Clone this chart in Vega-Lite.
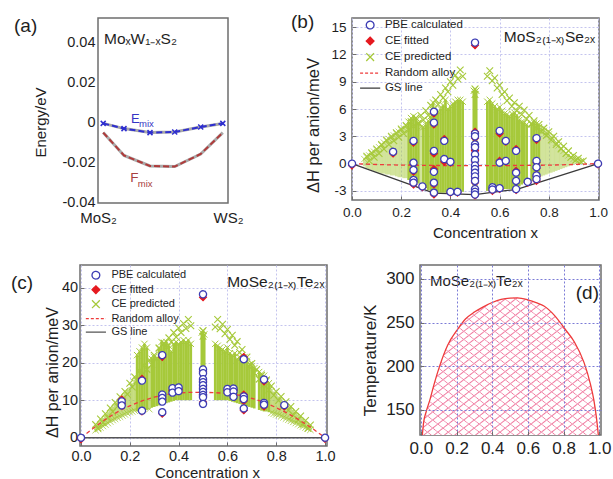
{
"$schema": "https://vega.github.io/schema/vega-lite/v6.json",
"padding": {"left": 10, "top": 11, "right": 0, "bottom": 0},
"columns": 1,
"spacing": 23,
"bounds": "full",
"resolve": {"scale": {"fill": "independent", "stroke": "independent", "shape": "independent", "strokeDash": "independent"}, "legend": {"fill": "independent", "stroke": "independent", "shape": "independent", "strokeDash": "independent"}},
"config": {
 "font": "Liberation Sans",
 "view": {"stroke": "#6e6e6e", "strokeWidth": 1.5},
 "axis": {"domain": false, "labelOverlap": false, "tickCount": 20, "tickColor": "#6e6e6e", "labelColor": "#1e1e1e", "titleColor": "#1e1e1e", "titleFontWeight": "normal", "gridColor": "#c4c4ee", "gridDash": [2, 2], "gridWidth": 1, "labelFont": "Liberation Sans", "titleFont": "Liberation Sans"},
 "title": {"fontWeight": "normal", "color": "#1e1e1e", "font": "Liberation Sans"},
 "legend": {"labelFont": "Liberation Sans", "labelColor": "#1e1e1e"},
 "text": {"font": "Liberation Sans"}
},
"datasets": {
 "a": [{"x":0.04,"E":-0.0007,"F":-0.0053},{"x":0.2,"E":-0.0033,"F":-0.0167},{"x":0.4,"E":-0.0053,"F":-0.022},{"x":0.59,"E":-0.005,"F":-0.0223},{"x":0.79,"E":-0.0025,"F":-0.016},{"x":0.96,"E":-0.0007,"F":-0.0053}],
 "b_fringe": [{"x":0.05,"lo":-0.3,"hi":0.5},{"x":0.06,"lo":-0.5,"hi":0.7},{"x":0.07,"lo":-0.6,"hi":0.9},{"x":0.08,"lo":-0.7,"hi":1.1},{"x":0.09,"lo":-0.8,"hi":1.3},{"x":0.1,"lo":-0.9,"hi":1.5},{"x":0.11,"lo":-1.0,"hi":1.8},{"x":0.12,"lo":-1.1,"hi":2.0},{"x":0.13,"lo":-1.1,"hi":2.3},{"x":0.14,"lo":-1.2,"hi":2.5},{"x":0.15,"lo":-1.2,"hi":2.7},{"x":0.16,"lo":-1.3,"hi":2.9},{"x":0.17,"lo":-1.3,"hi":3.1},{"x":0.18,"lo":-1.4,"hi":3.3},{"x":0.19,"lo":-1.5,"hi":3.5},{"x":0.2,"lo":-1.5,"hi":3.7},{"x":0.21,"lo":-1.6,"hi":3.9},{"x":0.22,"lo":-1.6,"hi":4.1},{"x":0.28,"lo":-2.2,"hi":4.0},{"x":0.77,"lo":-1.4,"hi":3.8},{"x":0.78,"lo":-1.3,"hi":3.6},{"x":0.79,"lo":-1.2,"hi":3.4},{"x":0.8,"lo":-1.1,"hi":3.2},{"x":0.81,"lo":-1.0,"hi":2.9},{"x":0.82,"lo":-0.9,"hi":2.6},{"x":0.83,"lo":-0.8,"hi":2.3},{"x":0.84,"lo":-0.7,"hi":2.0},{"x":0.85,"lo":-0.6,"hi":1.7},{"x":0.86,"lo":-0.5,"hi":1.4},{"x":0.87,"lo":-0.4,"hi":1.1},{"x":0.88,"lo":-0.3,"hi":0.9},{"x":0.89,"lo":-0.2,"hi":0.7},{"x":0.9,"lo":-0.1,"hi":0.5},{"x":0.91,"lo":0.0,"hi":0.4},{"x":0.92,"lo":0.0,"hi":0.3}],
 "b_cols": [{"x":0.23,"lo":-1.8,"hi":4.6},{"x":0.24,"lo":-2.0,"hi":5.0},{"x":0.25,"lo":-2.1,"hi":5.2},{"x":0.26,"lo":-2.1,"hi":5.0},{"x":0.27,"lo":-2.2,"hi":4.5},{"x":0.29,"lo":-2.5,"hi":4.0},{"x":0.3,"lo":-2.7,"hi":4.3},{"x":0.31,"lo":-2.9,"hi":4.7},{"x":0.32,"lo":-3.0,"hi":5.2},{"x":0.33,"lo":-3.2,"hi":6.7},{"x":0.34,"lo":-3.2,"hi":5.4},{"x":0.35,"lo":-3.2,"hi":5.7},{"x":0.36,"lo":-3.2,"hi":6.0},{"x":0.37,"lo":-3.2,"hi":6.4},{"x":0.38,"lo":-3.2,"hi":7.0},{"x":0.39,"lo":-3.2,"hi":6.0},{"x":0.4,"lo":-3.2,"hi":6.3},{"x":0.41,"lo":-3.2,"hi":6.6},{"x":0.42,"lo":-3.2,"hi":6.8},{"x":0.43,"lo":-3.1,"hi":7.0},{"x":0.44,"lo":-3.1,"hi":7.0},{"x":0.45,"lo":-3.1,"hi":6.8},{"x":0.495,"lo":-3.4,"hi":8.0},{"x":0.5,"lo":-3.4,"hi":8.2},{"x":0.505,"lo":-3.4,"hi":8.0},{"x":0.55,"lo":-3.0,"hi":6.8},{"x":0.56,"lo":-3.0,"hi":7.0},{"x":0.57,"lo":-2.9,"hi":6.6},{"x":0.58,"lo":-2.9,"hi":6.3},{"x":0.59,"lo":-2.8,"hi":6.0},{"x":0.6,"lo":-2.8,"hi":6.2},{"x":0.61,"lo":-2.8,"hi":5.8},{"x":0.62,"lo":-2.8,"hi":5.5},{"x":0.63,"lo":-2.8,"hi":5.4},{"x":0.64,"lo":-2.8,"hi":5.2},{"x":0.65,"lo":-2.8,"hi":5.5},{"x":0.66,"lo":-2.8,"hi":5.6},{"x":0.67,"lo":-2.7,"hi":5.3},{"x":0.68,"lo":-2.5,"hi":4.8},{"x":0.69,"lo":-2.3,"hi":4.6},{"x":0.7,"lo":-2.1,"hi":4.5},{"x":0.71,"lo":-2.0,"hi":4.3},{"x":0.73,"lo":-1.9,"hi":4.3},{"x":0.74,"lo":-1.8,"hi":4.5},{"x":0.75,"lo":-1.7,"hi":4.4},{"x":0.76,"lo":-1.6,"hi":4.0}],
 "b_pred": [{"x":0.06,"y":0.8},{"x":0.08,"y":1.2},{"x":0.1,"y":1.6},{"x":0.12,"y":2.1},{"x":0.14,"y":2.6},{"x":0.16,"y":3.0},{"x":0.18,"y":3.4},{"x":0.2,"y":3.8},{"x":0.22,"y":4.2},{"x":0.24,"y":4.6},{"x":0.26,"y":5.0},{"x":0.28,"y":5.3},{"x":0.3,"y":5.8},{"x":0.32,"y":6.4},{"x":0.34,"y":7.0},{"x":0.36,"y":7.6},{"x":0.38,"y":8.3},{"x":0.4,"y":9.0},{"x":0.42,"y":9.7},{"x":0.44,"y":10.3},
  {"x":0.07,"y":0.3},{"x":0.09,"y":0.7},{"x":0.11,"y":1.1},{"x":0.13,"y":1.6},{"x":0.15,"y":2.1},{"x":0.17,"y":2.5},{"x":0.19,"y":2.9},{"x":0.21,"y":3.3},{"x":0.23,"y":3.7},{"x":0.25,"y":4.1},{"x":0.27,"y":4.4},{"x":0.29,"y":4.8},{"x":0.31,"y":5.3},{"x":0.33,"y":5.9},{"x":0.35,"y":6.5},{"x":0.37,"y":7.2},{"x":0.39,"y":7.9},{"x":0.41,"y":8.6},{"x":0.43,"y":9.3},{"x":0.45,"y":9.6},
  {"x":0.56,"y":10.2},{"x":0.58,"y":9.4},{"x":0.6,"y":8.6},{"x":0.62,"y":7.9},{"x":0.64,"y":7.2},{"x":0.66,"y":6.7},{"x":0.68,"y":6.3},{"x":0.7,"y":5.9},{"x":0.72,"y":5.3},{"x":0.74,"y":4.7},{"x":0.76,"y":4.3},{"x":0.78,"y":3.9},{"x":0.8,"y":3.5},{"x":0.82,"y":3.0},{"x":0.84,"y":2.4},{"x":0.86,"y":1.9},{"x":0.88,"y":1.4},{"x":0.9,"y":0.9},{"x":0.92,"y":0.6},{"x":0.94,"y":0.3},
  {"x":0.55,"y":9.6},{"x":0.57,"y":9.1},{"x":0.59,"y":8.3},{"x":0.61,"y":7.6},{"x":0.63,"y":6.9},{"x":0.65,"y":6.3},{"x":0.67,"y":5.8},{"x":0.69,"y":5.4},{"x":0.71,"y":4.9},{"x":0.73,"y":4.4},{"x":0.75,"y":3.9},{"x":0.77,"y":3.5},{"x":0.79,"y":3.1},{"x":0.81,"y":2.6},{"x":0.83,"y":2.1},{"x":0.85,"y":1.6},{"x":0.87,"y":1.1},{"x":0.89,"y":0.7},{"x":0.91,"y":0.4},{"x":0.93,"y":0.2},
  {"x":0.5,"y":8.2},{"x":0.5,"y":7.6}],
 "b_pts": [{"x":0,"pbe":0,"ce":-0.2},{"x":0.167,"pbe":1.3,"ce":1.1},{"x":0.25,"pbe":2.5,"ce":2.3},{"x":0.25,"pbe":0.1,"ce":-0.1},{"x":0.25,"pbe":-0.7,"ce":-0.9},{"x":0.25,"pbe":-1.8,"ce":-2.0},{"x":0.25,"pbe":-2.1,"ce":-2.3},{"x":0.286,"pbe":-2.5,"ce":-2.6},{"x":0.333,"pbe":5.7,"ce":5.5},{"x":0.333,"pbe":4.5,"ce":4.3},{"x":0.333,"pbe":1.4,"ce":1.1},{"x":0.333,"pbe":-0.9,"ce":-0.6},{"x":0.333,"pbe":-2.1,"ce":-2.3},{"x":0.333,"pbe":-3.2,"ce":-3.4},{"x":0.375,"pbe":2.5,"ce":2.7},{"x":0.375,"pbe":0.5,"ce":0.2},{"x":0.4,"pbe":0.2,"ce":0.1},{"x":0.4,"pbe":-3.1,"ce":-3.2},{"x":0.429,"pbe":-3.1,"ce":-3.2},{"x":0.5,"pbe":13.3,"ce":13.0},{"x":0.5,"pbe":3.3,"ce":3.5},{"x":0.5,"pbe":3.0,"ce":2.8},{"x":0.5,"pbe":2.1,"ce":1.9},{"x":0.5,"pbe":1.8,"ce":1.5},{"x":0.5,"pbe":1.0,"ce":1.4},{"x":0.5,"pbe":0.4,"ce":0.2},{"x":0.5,"pbe":-0.2,"ce":-0.4},{"x":0.5,"pbe":-0.6,"ce":-0.8},{"x":0.5,"pbe":-1.0,"ce":-1.2},{"x":0.5,"pbe":-1.4,"ce":-1.6},{"x":0.5,"pbe":-1.9,"ce":-2.1},{"x":0.5,"pbe":-2.8,"ce":-3.0},{"x":0.5,"pbe":-3.1,"ce":-3.3},{"x":0.5,"pbe":-3.4,"ce":-3.5},{"x":0.571,"pbe":-2.6,"ce":-2.8},{"x":0.571,"pbe":-2.85,"ce":-3.0},{"x":0.6,"pbe":3.6,"ce":3.3},{"x":0.6,"pbe":0.1,"ce":0.3},{"x":0.6,"pbe":-2.7,"ce":-2.8},{"x":0.625,"pbe":2.5,"ce":2.4},{"x":0.625,"pbe":0.3,"ce":0.2},{"x":0.667,"pbe":1.4,"ce":1.6},{"x":0.667,"pbe":-1.0,"ce":-0.8},{"x":0.667,"pbe":-1.9,"ce":-2.0},{"x":0.667,"pbe":-2.8,"ce":-2.9},{"x":0.714,"pbe":-2.0,"ce":-2.1},{"x":0.75,"pbe":2.8,"ce":2.6},{"x":0.75,"pbe":0.3,"ce":0.1},{"x":0.75,"pbe":-0.4,"ce":-0.5},{"x":0.75,"pbe":-1.3,"ce":-1.4},{"x":0.75,"pbe":-1.7,"ce":-1.9},{"x":1,"pbe":0,"ce":-0.1}],
 "b_rand": [{"x":0,"y":0},{"x":0.1,"y":-0.1},{"x":0.2,"y":-0.17},{"x":0.3,"y":-0.2},{"x":0.4,"y":-0.22},{"x":0.5,"y":-0.23},{"x":0.6,"y":-0.22},{"x":0.7,"y":-0.2},{"x":0.8,"y":-0.17},{"x":0.9,"y":-0.1},{"x":1,"y":0}],
 "b_gs": [{"x":0,"y":0},{"x":0.333,"y":-3.25},{"x":0.5,"y":-3.4},{"x":0.6,"y":-3.05},{"x":0.667,"y":-2.85},{"x":1,"y":0}],
 "c_fringe": [{"x":0.06,"lo":2.0,"hi":3.0},{"x":0.07,"lo":2.3,"hi":4.0},{"x":0.08,"lo":2.7,"hi":4.6},{"x":0.09,"lo":3.1,"hi":5.3},{"x":0.1,"lo":3.5,"hi":6.0},{"x":0.11,"lo":3.9,"hi":6.8},{"x":0.12,"lo":4.3,"hi":7.5},{"x":0.13,"lo":4.7,"hi":8.3},{"x":0.14,"lo":5.0,"hi":9.0},{"x":0.15,"lo":5.3,"hi":9.8},{"x":0.16,"lo":5.6,"hi":10.5},{"x":0.17,"lo":5.9,"hi":11.3},{"x":0.18,"lo":6.2,"hi":12.0},{"x":0.19,"lo":6.5,"hi":12.8},{"x":0.2,"lo":6.8,"hi":13.5},{"x":0.21,"lo":7.0,"hi":14.5},{"x":0.22,"lo":7.2,"hi":15.5},{"x":0.28,"lo":7.6,"hi":19.0},{"x":0.78,"lo":6.6,"hi":13.0},{"x":0.79,"lo":6.4,"hi":12.3},{"x":0.8,"lo":6.2,"hi":11.6},{"x":0.81,"lo":6.0,"hi":11.0},{"x":0.82,"lo":5.7,"hi":10.4},{"x":0.83,"lo":5.4,"hi":9.8},{"x":0.84,"lo":5.1,"hi":9.2},{"x":0.85,"lo":4.8,"hi":8.6},{"x":0.86,"lo":4.5,"hi":8.0},{"x":0.87,"lo":4.2,"hi":7.4},{"x":0.88,"lo":3.9,"hi":6.8},{"x":0.89,"lo":3.6,"hi":6.2},{"x":0.9,"lo":3.3,"hi":5.6},{"x":0.91,"lo":3.0,"hi":5.0},{"x":0.92,"lo":2.7,"hi":4.4},{"x":0.93,"lo":2.4,"hi":3.8},{"x":0.94,"lo":2.1,"hi":3.2}],
 "c_cols": [{"x":0.23,"lo":7.0,"hi":22.0},{"x":0.24,"lo":7.0,"hi":23.0},{"x":0.25,"lo":7.0,"hi":24.0},{"x":0.26,"lo":7.2,"hi":25.0},{"x":0.27,"lo":7.4,"hi":24.0},{"x":0.29,"lo":8.0,"hi":21.0},{"x":0.3,"lo":8.2,"hi":21.5},{"x":0.31,"lo":8.4,"hi":21.0},{"x":0.32,"lo":8.6,"hi":24.0},{"x":0.33,"lo":8.8,"hi":25.5},{"x":0.34,"lo":9.0,"hi":25.0},{"x":0.35,"lo":9.2,"hi":25.5},{"x":0.36,"lo":9.4,"hi":24.5},{"x":0.37,"lo":9.6,"hi":23.0},{"x":0.38,"lo":9.8,"hi":25.0},{"x":0.39,"lo":10.0,"hi":25.5},{"x":0.4,"lo":10.0,"hi":25.0},{"x":0.41,"lo":10.0,"hi":25.5},{"x":0.42,"lo":10.0,"hi":26.0},{"x":0.43,"lo":10.0,"hi":25.5},{"x":0.44,"lo":10.0,"hi":26.0},{"x":0.45,"lo":10.0,"hi":25.0},{"x":0.495,"lo":9.0,"hi":28.0},{"x":0.5,"lo":9.0,"hi":28.5},{"x":0.505,"lo":9.0,"hi":27.5},{"x":0.55,"lo":10.0,"hi":25.0},{"x":0.56,"lo":10.0,"hi":24.5},{"x":0.57,"lo":10.0,"hi":24.0},{"x":0.58,"lo":10.0,"hi":23.5},{"x":0.59,"lo":10.0,"hi":23.0},{"x":0.6,"lo":10.0,"hi":24.0},{"x":0.61,"lo":9.8,"hi":22.5},{"x":0.62,"lo":9.6,"hi":22.0},{"x":0.63,"lo":9.4,"hi":22.5},{"x":0.64,"lo":9.2,"hi":21.0},{"x":0.65,"lo":9.0,"hi":21.5},{"x":0.66,"lo":8.8,"hi":22.0},{"x":0.67,"lo":8.6,"hi":21.5},{"x":0.68,"lo":8.4,"hi":20.5},{"x":0.69,"lo":8.2,"hi":19.5},{"x":0.7,"lo":8.0,"hi":19.0},{"x":0.71,"lo":7.8,"hi":18.5},{"x":0.73,"lo":7.4,"hi":17.5},{"x":0.74,"lo":7.2,"hi":17.0},{"x":0.75,"lo":7.0,"hi":16.5},{"x":0.76,"lo":7.0,"hi":15.5},{"x":0.77,"lo":6.8,"hi":14.5}],
 "c_pred": [{"x":0.06,"y":3.5},{"x":0.08,"y":5.0},{"x":0.1,"y":6.4},{"x":0.12,"y":7.9},{"x":0.14,"y":9.4},{"x":0.16,"y":10.9},{"x":0.18,"y":12.3},{"x":0.2,"y":14.5},{"x":0.22,"y":16.2},{"x":0.24,"y":17.8},{"x":0.26,"y":19.3},{"x":0.28,"y":20.7},{"x":0.3,"y":22.0},{"x":0.32,"y":23.8},{"x":0.34,"y":25.2},{"x":0.36,"y":26.6},{"x":0.38,"y":28.0},{"x":0.4,"y":29.2},{"x":0.42,"y":30.4},{"x":0.44,"y":31.5},
  {"x":0.07,"y":2.6},{"x":0.09,"y":4.0},{"x":0.11,"y":5.4},{"x":0.13,"y":6.9},{"x":0.15,"y":8.4},{"x":0.17,"y":9.8},{"x":0.19,"y":11.6},{"x":0.21,"y":13.5},{"x":0.23,"y":15.2},{"x":0.25,"y":16.7},{"x":0.27,"y":18.2},{"x":0.29,"y":19.5},{"x":0.31,"y":21.1},{"x":0.33,"y":22.7},{"x":0.35,"y":24.1},{"x":0.37,"y":25.5},{"x":0.39,"y":26.8},{"x":0.41,"y":28.0},{"x":0.43,"y":29.1},{"x":0.45,"y":29.8},
  {"x":0.56,"y":31.5},{"x":0.58,"y":30.2},{"x":0.6,"y":28.8},{"x":0.62,"y":27.3},{"x":0.64,"y":25.6},{"x":0.66,"y":23.5},{"x":0.68,"y":21.5},{"x":0.7,"y":19.8},{"x":0.72,"y":18.2},{"x":0.74,"y":16.6},{"x":0.76,"y":15.2},{"x":0.78,"y":13.8},{"x":0.8,"y":12.3},{"x":0.82,"y":11.0},{"x":0.84,"y":9.6},{"x":0.86,"y":8.3},{"x":0.88,"y":7.0},{"x":0.9,"y":5.8},{"x":0.92,"y":4.6},{"x":0.94,"y":3.4},
  {"x":0.55,"y":29.5},{"x":0.57,"y":29.0},{"x":0.59,"y":27.7},{"x":0.61,"y":26.2},{"x":0.63,"y":24.6},{"x":0.65,"y":22.7},{"x":0.67,"y":20.7},{"x":0.69,"y":18.9},{"x":0.71,"y":17.2},{"x":0.73,"y":15.6},{"x":0.75,"y":14.1},{"x":0.77,"y":12.7},{"x":0.79,"y":11.3},{"x":0.81,"y":9.9},{"x":0.83,"y":8.6},{"x":0.85,"y":7.3},{"x":0.87,"y":6.0},{"x":0.89,"y":4.8},{"x":0.91,"y":3.6},{"x":0.93,"y":2.5},
  {"x":0.5,"y":28.5},{"x":0.5,"y":27.0}],
 "c_pts": [{"x":0,"pbe":0,"ce":-0.4},{"x":0.167,"pbe":9.7,"ce":10.2},{"x":0.167,"pbe":8.6,"ce":9.1},{"x":0.25,"pbe":15.2,"ce":15.7},{"x":0.25,"pbe":7.2,"ce":7.0},{"x":0.333,"pbe":22.0,"ce":21.5},{"x":0.333,"pbe":11.5,"ce":11.0},{"x":0.333,"pbe":10.6,"ce":10.1},{"x":0.333,"pbe":9.6,"ce":10.1},{"x":0.333,"pbe":6.8,"ce":6.4},{"x":0.375,"pbe":13.2,"ce":12.7},{"x":0.375,"pbe":12.0,"ce":12.5},{"x":0.4,"pbe":13.4,"ce":12.9},{"x":0.4,"pbe":12.4,"ce":12.9},{"x":0.5,"pbe":38.2,"ce":37.4},{"x":0.5,"pbe":18.2,"ce":17.7},{"x":0.5,"pbe":17.2,"ce":17.7},{"x":0.5,"pbe":15.6,"ce":15.0},{"x":0.5,"pbe":14.8,"ce":15.3},{"x":0.5,"pbe":14.0,"ce":13.5},{"x":0.5,"pbe":13.0,"ce":13.5},{"x":0.5,"pbe":12.2,"ce":11.6},{"x":0.5,"pbe":11.4,"ce":10.9},{"x":0.5,"pbe":10.8,"ce":11.2},{"x":0.5,"pbe":9.0,"ce":9.5},{"x":0.6,"pbe":13.0,"ce":12.5},{"x":0.6,"pbe":12.1,"ce":12.6},{"x":0.625,"pbe":13.1,"ce":12.6},{"x":0.625,"pbe":12.3,"ce":12.8},{"x":0.625,"pbe":10.9,"ce":11.4},{"x":0.667,"pbe":20.9,"ce":21.5},{"x":0.667,"pbe":11.0,"ce":11.5},{"x":0.667,"pbe":10.3,"ce":9.8},{"x":0.667,"pbe":7.8,"ce":7.3},{"x":0.75,"pbe":15.5,"ce":15.0},{"x":0.75,"pbe":9.3,"ce":8.8},{"x":0.75,"pbe":8.8,"ce":8.3},{"x":0.833,"pbe":8.7,"ce":8.3},{"x":1,"pbe":0,"ce":-0.3}],
 "c_rand": [{"x":0,"y":0},{"x":0.05,"y":2.5},{"x":0.1,"y":4.9},{"x":0.15,"y":6.9},{"x":0.2,"y":8.5},{"x":0.25,"y":9.8},{"x":0.3,"y":10.8},{"x":0.35,"y":11.5},{"x":0.4,"y":11.9},{"x":0.45,"y":12.1},{"x":0.5,"y":12.1},{"x":0.55,"y":12.0},{"x":0.6,"y":11.8},{"x":0.65,"y":11.3},{"x":0.7,"y":10.5},{"x":0.75,"y":9.5},{"x":0.8,"y":8.0},{"x":0.85,"y":6.4},{"x":0.9,"y":4.5},{"x":0.95,"y":2.4},{"x":1,"y":0}],
 "c_gs": [{"x":0,"y":0},{"x":1,"y":0}],
 "d": [{"x":0.008,"t":121},{"x":0.015,"t":135},{"x":0.03,"t":148},{"x":0.05,"t":161},{"x":0.075,"t":180},{"x":0.105,"t":200},{"x":0.15,"t":224},{"x":0.205,"t":242},{"x":0.25,"t":254},{"x":0.3,"t":262},{"x":0.35,"t":268},{"x":0.4,"t":273},{"x":0.45,"t":276.5},{"x":0.5,"t":278},{"x":0.54,"t":278.3},{"x":0.6,"t":276},{"x":0.65,"t":272.5},{"x":0.69,"t":269},{"x":0.75,"t":258},{"x":0.81,"t":242},{"x":0.86,"t":228},{"x":0.915,"t":204},{"x":0.95,"t":180},{"x":0.97,"t":161},{"x":0.985,"t":140},{"x":0.995,"t":121}]
},
"concat": [
 {"hconcat": [
  {"width": 1, "height": 1, "data": {"values": [{}]}, "mark": {"type": "point", "opacity": 0}, "view": {"stroke": null}},
  {"hconcat": [
  {"width": 130, "height": 185,
   "title": {"text": "(a)", "anchor": "start", "frame": "group", "orient": "top", "offset": 0, "baseline": "top", "dx": -84, "dy": 18, "fontSize": 19},
   "layer": [
    {"data": {"name": "a"}, "mark": {"type": "line", "color": "#a9a9a9", "strokeWidth": 3},
     "encoding": {
      "x": {"field": "x", "type": "quantitative", "scale": {"domain": [0, 1], "nice": false, "zero": false}, "axis": {"values": [0, 1], "tickCount": 20, "labelExpr": "datum.value == 0 ? 'MoS₂' : 'WS₂'", "labelFontSize": 15, "labelPadding": 7, "labelOverlap": false, "ticks": false, "grid": false, "labelFlush": false, "title": null}},
      "y": {"field": "E", "type": "quantitative", "scale": {"domain": [-0.0405, 0.052], "nice": false, "zero": false}, "axis": {"values": [-0.04, -0.02, 0, 0.02, 0.04], "tickCount": 20, "labelExpr": "datum.value == 0 ? '0' : (datum.value < 0 ? '-' + format(-datum.value, '.2f') : format(datum.value, '.2f'))", "labelFontSize": 14.5, "labelPadding": 3, "labelOverlap": false, "ticks": false, "grid": false, "title": "Energy/eV", "titleFontSize": 15, "titleX": -50, "titleY": 104}}}},
    {"data": {"name": "a"}, "mark": {"type": "line", "color": "#a9a9a9", "strokeWidth": 3}, "encoding": {"x": {"field": "x", "type": "quantitative"}, "y": {"field": "F", "type": "quantitative"}}},
    {"data": {"name": "a"}, "mark": {"type": "line", "color": "#2e2ed0", "strokeWidth": 2, "strokeDash": [6, 3]}, "encoding": {"x": {"field": "x", "type": "quantitative"}, "y": {"field": "E", "type": "quantitative"}}},
    {"data": {"name": "a"}, "mark": {"type": "line", "color": "#b03a3a", "strokeWidth": 2, "strokeDash": [6, 3]}, "encoding": {"x": {"field": "x", "type": "quantitative"}, "y": {"field": "F", "type": "quantitative"}}},
    {"data": {"name": "a"}, "mark": {"type": "point", "shape": "M-1,-1L1,1M-1,1L1,-1", "filled": false, "color": "#2e2ed0", "size": 25, "strokeWidth": 1.5, "opacity": 1}, "encoding": {"x": {"field": "x", "type": "quantitative"}, "y": {"field": "E", "type": "quantitative"}}},
    {"data": {"values": [{}]}, "mark": {"type": "text", "text": "MoₓW₁₋ₓS₂", "align": "left", "baseline": "alphabetic", "fontSize": 15.5, "color": "#1e1e1e"}, "encoding": {"x": {"datum": 0.046, "type": "quantitative"}, "y": {"datum": 0.0392, "type": "quantitative"}}},
    {"data": {"values": [{}]}, "mark": {"type": "text", "text": "E", "align": "left", "baseline": "alphabetic", "fontSize": 13, "color": "#3535c5"}, "encoding": {"x": {"datum": 0.254, "type": "quantitative"}, "y": {"datum": -0.00064, "type": "quantitative"}}},
    {"data": {"values": [{}]}, "mark": {"type": "text", "text": "mix", "align": "left", "baseline": "alphabetic", "fontSize": 9.5, "dx": 8, "dy": 4, "color": "#3535c5"}, "encoding": {"x": {"datum": 0.254, "type": "quantitative"}, "y": {"datum": -0.00064, "type": "quantitative"}}},
    {"data": {"values": [{}]}, "mark": {"type": "text", "text": "F", "align": "left", "baseline": "alphabetic", "fontSize": 13.5, "color": "#a84040"}, "encoding": {"x": {"datum": 0.248, "type": "quantitative"}, "y": {"datum": -0.02993, "type": "quantitative"}}},
    {"data": {"values": [{}]}, "mark": {"type": "text", "text": "mix", "align": "left", "baseline": "alphabetic", "fontSize": 9.5, "dx": 7.5, "dy": 5, "color": "#a84040"}, "encoding": {"x": {"datum": 0.248, "type": "quantitative"}, "y": {"datum": -0.02993, "type": "quantitative"}}}
   ]},
  {"width": 247, "height": 182,
   "title": {"text": "(b)", "anchor": "start", "frame": "group", "orient": "top", "offset": 0, "baseline": "top", "dx": -61, "dy": 13.5, "fontSize": 19},
   "layer": [
    {"data": {"name": "b_fringe"}, "mark": {"type": "rule", "color": "#a6c93a", "strokeWidth": 2.6, "opacity": 0.5},
     "encoding": {
      "x": {"field": "x", "type": "quantitative", "scale": {"domain": [0, 1.004], "nice": false, "zero": false}, "axis": {"values": [0, 0.2, 0.4, 0.6, 0.8, 1], "tickCount": 20, "format": ".1f", "labelFontSize": 13.5, "labelPadding": 9.3, "labelOverlap": false, "tickSize": -4, "grid": true, "labelFlush": false, "title": "Concentration x", "titleFontSize": 15, "titleX": 133, "titleY": 25, "titleBaseline": "top"}},
      "y": {"field": "lo", "type": "quantitative", "scale": {"domain": [-4, 16], "nice": false, "zero": false}, "axis": {"values": [-3, 0, 3, 6, 9, 12, 15], "tickCount": 20, "labelExpr": "datum.value < 0 ? '-' + format(-datum.value, 'd') : format(datum.value, 'd')", "labelFontSize": 13.5, "labelPadding": 10, "labelOverlap": false, "tickSize": -4, "grid": true, "title": "ΔH per anion/meV", "titleFontSize": 16.5, "titleX": -31, "titleY": 107}},
      "y2": {"field": "hi"}}},
    {"data": {"name": "b_cols"}, "mark": {"type": "rule", "color": "#a6c93a", "strokeWidth": 2.6}, "encoding": {"x": {"field": "x", "type": "quantitative"}, "y": {"field": "lo", "type": "quantitative"}, "y2": {"field": "hi"}}},
    {"data": {"name": "b_cols"}, "mark": {"type": "point", "shape": "M-1,-1L1,1M-1,1L1,-1", "filled": false, "color": "#a6c93a", "size": 40, "strokeWidth": 1, "opacity": 1}, "encoding": {"x": {"field": "x", "type": "quantitative"}, "y": {"field": "hi", "type": "quantitative"}}},
    {"data": {"name": "b_fringe"}, "mark": {"type": "point", "shape": "M-1,-1L1,1M-1,1L1,-1", "filled": false, "color": "#a6c93a", "size": 40, "strokeWidth": 1, "opacity": 0.7}, "encoding": {"x": {"field": "x", "type": "quantitative"}, "y": {"field": "hi", "type": "quantitative"}}},
    {"data": {"name": "b_pred"}, "mark": {"type": "point", "shape": "M-1,-1L1,1M-1,1L1,-1", "filled": false, "color": "#a6c93a", "size": 45, "strokeWidth": 1.1, "opacity": 1}, "encoding": {"x": {"field": "x", "type": "quantitative"}, "y": {"field": "y", "type": "quantitative"}}},
    {"data": {"name": "b_rand"}, "mark": {"type": "line", "color": "#ee3b3b", "strokeWidth": 1.3, "strokeDash": [4, 3]}, "encoding": {"x": {"field": "x", "type": "quantitative"}, "y": {"field": "y", "type": "quantitative"}}},
    {"data": {"name": "b_gs"}, "mark": {"type": "line", "color": "#3a3a3a", "strokeWidth": 1.3}, "encoding": {"x": {"field": "x", "type": "quantitative"}, "y": {"field": "y", "type": "quantitative"}}},
    {"data": {"name": "b_pts"}, "transform": [{"fold": ["pbe", "ce"], "as": ["series", "y"]}, {"filter": "datum.series == 'ce'"}],
     "mark": {"type": "point", "size": 45, "strokeWidth": 1.3, "opacity": 1},
     "encoding": {"x": {"field": "x", "type": "quantitative"}, "y": {"field": "y", "type": "quantitative"},
      "stroke": {"field": "series", "type": "nominal", "scale": {"domain": ["pbe", "ce", "pred", "rand", "gs"], "range": ["#3c3cb4", "#e5191f", "#a6c93a", "#ee3b3b", "#3a3a3a"]},
       "legend": {"orient": "none", "legendX": 12.4, "legendY": 1.3, "direction": "vertical", "title": null, "padding": 0, "labelFontSize": 11.5, "labelOffset": 9, "rowPadding": 2, "symbolSize": 60, "symbolStrokeWidth": 1.3, "labelLimit": 200,
        "labelExpr": "datum.value == 'pbe' ? 'PBE calculated' : datum.value == 'ce' ? 'CE fitted' : datum.value == 'pred' ? 'CE predicted' : datum.value == 'rand' ? 'Random alloy' : 'GS line'"}},
      "fill": {"field": "series", "type": "nominal", "scale": {"domain": ["pbe", "ce", "pred", "rand", "gs"], "range": ["#ffffff", "#e5191f", "transparent", "transparent", "transparent"]}},
      "strokeDash": {"field": "series", "type": "nominal", "scale": {"domain": ["pbe", "ce", "pred", "rand", "gs"], "range": [[1, 0], [1, 0], [1, 0], [3, 2], [1, 0]]}},
      "shape": {"field": "series", "type": "nominal", "scale": {"domain": ["pbe", "ce", "pred", "rand", "gs"], "range": ["circle", "diamond", "M-1,-1L1,1M-1,1L1,-1", "M-2.6,0L2.6,0", "M-2.6,0L2.6,0"]}}}},
    {"data": {"name": "b_pts"}, "transform": [{"fold": ["pbe", "ce"], "as": ["series", "y"]}, {"filter": "datum.series == 'pbe'"}],
     "mark": {"type": "point", "size": 50, "strokeWidth": 1.3, "opacity": 1},
     "encoding": {"x": {"field": "x", "type": "quantitative"}, "y": {"field": "y", "type": "quantitative"},
      "stroke": {"field": "series", "type": "nominal", "scale": {"domain": ["pbe", "ce", "pred", "rand", "gs"], "range": ["#3c3cb4", "#e5191f", "#a6c93a", "#ee3b3b", "#3a3a3a"]}},
      "fill": {"field": "series", "type": "nominal", "scale": {"domain": ["pbe", "ce", "pred", "rand", "gs"], "range": ["#ffffff", "#e5191f", "transparent", "transparent", "transparent"]}},
      "strokeDash": {"field": "series", "type": "nominal", "scale": {"domain": ["pbe", "ce", "pred", "rand", "gs"], "range": [[1, 0], [1, 0], [1, 0], [3, 2], [1, 0]]}},
      "shape": {"field": "series", "type": "nominal", "scale": {"domain": ["pbe", "ce", "pred", "rand", "gs"], "range": ["circle", "diamond", "M-1,-1L1,1M-1,1L1,-1", "M-2.6,0L2.6,0", "M-2.6,0L2.6,0"]}}}},
    {"data": {"values": [{}]}, "mark": {"type": "text", "text": "MoS₂₍₁₋ₓ₎Se₂ₓ", "align": "left", "baseline": "alphabetic", "fontSize": 15.5, "color": "#1e1e1e"}, "encoding": {"x": {"datum": 0.617, "type": "quantitative"}, "y": {"datum": 13.34, "type": "quantitative"}}}
   ]}
  ], "spacing": 124, "bounds": "flush", "resolve": {"scale": {"fill": "independent", "stroke": "independent", "shape": "independent", "strokeDash": "independent"}, "legend": {"fill": "independent", "stroke": "independent", "shape": "independent", "strokeDash": "independent"}}}
 ], "spacing": 17, "bounds": "flush", "resolve": {"scale": {"fill": "independent", "stroke": "independent", "shape": "independent", "strokeDash": "independent"}, "legend": {"fill": "independent", "stroke": "independent", "shape": "independent", "strokeDash": "independent"}}},
 {"hconcat": [
  {"width": 247, "height": 181,
   "title": {"text": "(c)", "anchor": "start", "frame": "group", "orient": "top", "offset": 0, "baseline": "top", "dx": -69, "dy": 27.5, "fontSize": 19},
   "layer": [
    {"data": {"name": "c_fringe"}, "mark": {"type": "rule", "color": "#a6c93a", "strokeWidth": 2.6, "opacity": 0.65},
     "encoding": {
      "x": {"field": "x", "type": "quantitative", "scale": {"domain": [-0.004, 1.008], "nice": false, "zero": false}, "axis": {"values": [0, 0.2, 0.4, 0.6, 0.8, 1], "tickCount": 20, "format": ".1f", "labelFontSize": 14.5, "labelPadding": 7, "labelOverlap": false, "tickSize": -4, "grid": true, "labelFlush": false, "title": "Concentration x", "titleFontSize": 15, "titleX": 127, "titleY": 19, "titleBaseline": "top"}},
      "y": {"field": "lo", "type": "quantitative", "scale": {"domain": [-2.2, 46], "nice": false, "zero": false}, "axis": {"values": [0, 10, 20, 30, 40], "tickCount": 20, "labelFontSize": 14.5, "labelPadding": 6.3, "labelOverlap": false, "tickSize": -4, "grid": true, "title": "ΔH per anion/meV", "titleFontSize": 16, "titleX": -20, "titleY": 107}},
      "y2": {"field": "hi"}}},
    {"data": {"name": "c_cols"}, "mark": {"type": "rule", "color": "#a6c93a", "strokeWidth": 2.6}, "encoding": {"x": {"field": "x", "type": "quantitative"}, "y": {"field": "lo", "type": "quantitative"}, "y2": {"field": "hi"}}},
    {"data": {"name": "c_cols"}, "mark": {"type": "point", "shape": "M-1,-1L1,1M-1,1L1,-1", "filled": false, "color": "#a6c93a", "size": 40, "strokeWidth": 1, "opacity": 1}, "encoding": {"x": {"field": "x", "type": "quantitative"}, "y": {"field": "hi", "type": "quantitative"}}},
    {"data": {"name": "c_fringe"}, "mark": {"type": "point", "shape": "M-1,-1L1,1M-1,1L1,-1", "filled": false, "color": "#a6c93a", "size": 40, "strokeWidth": 1, "opacity": 0.8}, "encoding": {"x": {"field": "x", "type": "quantitative"}, "y": {"field": "lo", "type": "quantitative"}}},
    {"data": {"name": "c_pred"}, "mark": {"type": "point", "shape": "M-1,-1L1,1M-1,1L1,-1", "filled": false, "color": "#a6c93a", "size": 45, "strokeWidth": 1.1, "opacity": 1}, "encoding": {"x": {"field": "x", "type": "quantitative"}, "y": {"field": "y", "type": "quantitative"}}},
    {"data": {"name": "c_rand"}, "mark": {"type": "line", "color": "#ee3b3b", "strokeWidth": 1.3, "strokeDash": [4, 3]}, "encoding": {"x": {"field": "x", "type": "quantitative"}, "y": {"field": "y", "type": "quantitative"}}},
    {"data": {"name": "c_gs"}, "mark": {"type": "line", "color": "#555555", "strokeWidth": 1.3}, "encoding": {"x": {"field": "x", "type": "quantitative"}, "y": {"field": "y", "type": "quantitative"}}},
    {"data": {"name": "c_pts"}, "transform": [{"fold": ["pbe", "ce"], "as": ["series", "y"]}, {"filter": "datum.series == 'ce'"}],
     "mark": {"type": "point", "size": 45, "strokeWidth": 1.3, "opacity": 1},
     "encoding": {"x": {"field": "x", "type": "quantitative"}, "y": {"field": "y", "type": "quantitative"},
      "stroke": {"field": "series", "type": "nominal", "scale": {"domain": ["pbe", "ce", "pred", "rand", "gs"], "range": ["#3c3cb4", "#e5191f", "#a6c93a", "#ee3b3b", "#555555"]},
       "legend": {"orient": "none", "legendX": 10.4, "legendY": 4.7, "direction": "vertical", "title": null, "padding": 0, "labelFontSize": 11, "labelOffset": 10, "rowPadding": 1.5, "symbolSize": 60, "symbolStrokeWidth": 1.3, "labelLimit": 200,
        "labelExpr": "datum.value == 'pbe' ? 'PBE calculated' : datum.value == 'ce' ? 'CE fitted' : datum.value == 'pred' ? 'CE predicted' : datum.value == 'rand' ? 'Random alloy' : 'GS line'"}},
      "fill": {"field": "series", "type": "nominal", "scale": {"domain": ["pbe", "ce", "pred", "rand", "gs"], "range": ["#ffffff", "#e5191f", "transparent", "transparent", "transparent"]}},
      "strokeDash": {"field": "series", "type": "nominal", "scale": {"domain": ["pbe", "ce", "pred", "rand", "gs"], "range": [[1, 0], [1, 0], [1, 0], [3, 2], [1, 0]]}},
      "shape": {"field": "series", "type": "nominal", "scale": {"domain": ["pbe", "ce", "pred", "rand", "gs"], "range": ["circle", "diamond", "M-1,-1L1,1M-1,1L1,-1", "M-2.6,0L2.6,0", "M-2.6,0L2.6,0"]}}}},
    {"data": {"name": "c_pts"}, "transform": [{"fold": ["pbe", "ce"], "as": ["series", "y"]}, {"filter": "datum.series == 'pbe'"}],
     "mark": {"type": "point", "size": 50, "strokeWidth": 1.3, "opacity": 1},
     "encoding": {"x": {"field": "x", "type": "quantitative"}, "y": {"field": "y", "type": "quantitative"},
      "stroke": {"field": "series", "type": "nominal", "scale": {"domain": ["pbe", "ce", "pred", "rand", "gs"], "range": ["#3c3cb4", "#e5191f", "#a6c93a", "#ee3b3b", "#555555"]}},
      "fill": {"field": "series", "type": "nominal", "scale": {"domain": ["pbe", "ce", "pred", "rand", "gs"], "range": ["#ffffff", "#e5191f", "transparent", "transparent", "transparent"]}},
      "strokeDash": {"field": "series", "type": "nominal", "scale": {"domain": ["pbe", "ce", "pred", "rand", "gs"], "range": [[1, 0], [1, 0], [1, 0], [3, 2], [1, 0]]}},
      "shape": {"field": "series", "type": "nominal", "scale": {"domain": ["pbe", "ce", "pred", "rand", "gs"], "range": ["circle", "diamond", "M-1,-1L1,1M-1,1L1,-1", "M-2.6,0L2.6,0", "M-2.6,0L2.6,0"]}}}},
    {"data": {"values": [{}]}, "mark": {"type": "text", "text": "MoSe₂₍₁₋ₓ₎Te₂ₓ", "align": "left", "baseline": "alphabetic", "fontSize": 15.5, "color": "#1e1e1e"}, "encoding": {"x": {"datum": 0.599, "type": "quantitative"}, "y": {"datum": 40.2, "type": "quantitative"}}}
   ]},
  {"width": 181, "height": 170,
   "title": {"text": "(d)", "anchor": "end", "frame": "group", "orient": "top", "offset": 0, "baseline": "top", "dx": -2, "dy": 37.5, "fontSize": 19},
   "layer": [
    {"data": {"name": "d"}, "mark": {"type": "area", "interpolate": "monotone", "fill": {"gradient": "linear", "x1": 0, "y1": 0, "x2": 1, "y2": 1, "stops": [
      {"offset":0,"color":"#ffffff"},{"offset":0.0045,"color":"#f07aa0"},{"offset":0.009,"color":"#ffffff"},
      {"offset":0.0294,"color":"#ffffff"},{"offset":0.0339,"color":"#f07aa0"},{"offset":0.0384,"color":"#ffffff"},
      {"offset":0.0588,"color":"#ffffff"},{"offset":0.0633,"color":"#f07aa0"},{"offset":0.0678,"color":"#ffffff"},
      {"offset":0.0882,"color":"#ffffff"},{"offset":0.0927,"color":"#f07aa0"},{"offset":0.0972,"color":"#ffffff"},
      {"offset":0.1176,"color":"#ffffff"},{"offset":0.1221,"color":"#f07aa0"},{"offset":0.1266,"color":"#ffffff"},
      {"offset":0.147,"color":"#ffffff"},{"offset":0.1515,"color":"#f07aa0"},{"offset":0.156,"color":"#ffffff"},
      {"offset":0.1764,"color":"#ffffff"},{"offset":0.1809,"color":"#f07aa0"},{"offset":0.1854,"color":"#ffffff"},
      {"offset":0.2058,"color":"#ffffff"},{"offset":0.2103,"color":"#f07aa0"},{"offset":0.2148,"color":"#ffffff"},
      {"offset":0.2352,"color":"#ffffff"},{"offset":0.2397,"color":"#f07aa0"},{"offset":0.2442,"color":"#ffffff"},
      {"offset":0.2646,"color":"#ffffff"},{"offset":0.2691,"color":"#f07aa0"},{"offset":0.2736,"color":"#ffffff"},
      {"offset":0.294,"color":"#ffffff"},{"offset":0.2985,"color":"#f07aa0"},{"offset":0.303,"color":"#ffffff"},
      {"offset":0.3234,"color":"#ffffff"},{"offset":0.3279,"color":"#f07aa0"},{"offset":0.3324,"color":"#ffffff"},
      {"offset":0.3528,"color":"#ffffff"},{"offset":0.3573,"color":"#f07aa0"},{"offset":0.3618,"color":"#ffffff"},
      {"offset":0.3822,"color":"#ffffff"},{"offset":0.3867,"color":"#f07aa0"},{"offset":0.3912,"color":"#ffffff"},
      {"offset":0.4116,"color":"#ffffff"},{"offset":0.4161,"color":"#f07aa0"},{"offset":0.4206,"color":"#ffffff"},
      {"offset":0.441,"color":"#ffffff"},{"offset":0.4455,"color":"#f07aa0"},{"offset":0.45,"color":"#ffffff"},
      {"offset":0.4704,"color":"#ffffff"},{"offset":0.4749,"color":"#f07aa0"},{"offset":0.4794,"color":"#ffffff"},
      {"offset":0.4998,"color":"#ffffff"},{"offset":0.5043,"color":"#f07aa0"},{"offset":0.5088,"color":"#ffffff"},
      {"offset":0.5292,"color":"#ffffff"},{"offset":0.5337,"color":"#f07aa0"},{"offset":0.5382,"color":"#ffffff"},
      {"offset":0.5586,"color":"#ffffff"},{"offset":0.5631,"color":"#f07aa0"},{"offset":0.5676,"color":"#ffffff"},
      {"offset":0.588,"color":"#ffffff"},{"offset":0.5925,"color":"#f07aa0"},{"offset":0.597,"color":"#ffffff"},
      {"offset":0.6174,"color":"#ffffff"},{"offset":0.6219,"color":"#f07aa0"},{"offset":0.6264,"color":"#ffffff"},
      {"offset":0.6468,"color":"#ffffff"},{"offset":0.6513,"color":"#f07aa0"},{"offset":0.6558,"color":"#ffffff"},
      {"offset":0.6762,"color":"#ffffff"},{"offset":0.6807,"color":"#f07aa0"},{"offset":0.6852,"color":"#ffffff"},
      {"offset":0.7056,"color":"#ffffff"},{"offset":0.7101,"color":"#f07aa0"},{"offset":0.7146,"color":"#ffffff"},
      {"offset":0.735,"color":"#ffffff"},{"offset":0.7395,"color":"#f07aa0"},{"offset":0.744,"color":"#ffffff"},
      {"offset":0.7644,"color":"#ffffff"},{"offset":0.7689,"color":"#f07aa0"},{"offset":0.7734,"color":"#ffffff"},
      {"offset":0.7938,"color":"#ffffff"},{"offset":0.7983,"color":"#f07aa0"},{"offset":0.8028,"color":"#ffffff"},
      {"offset":0.8232,"color":"#ffffff"},{"offset":0.8277,"color":"#f07aa0"},{"offset":0.8322,"color":"#ffffff"},
      {"offset":0.8526,"color":"#ffffff"},{"offset":0.8571,"color":"#f07aa0"},{"offset":0.8616,"color":"#ffffff"},
      {"offset":0.882,"color":"#ffffff"},{"offset":0.8865,"color":"#f07aa0"},{"offset":0.891,"color":"#ffffff"},
      {"offset":0.9114,"color":"#ffffff"},{"offset":0.9159,"color":"#f07aa0"},{"offset":0.9204,"color":"#ffffff"},
      {"offset":0.9408,"color":"#ffffff"},{"offset":0.9453,"color":"#f07aa0"},{"offset":0.9498,"color":"#ffffff"},
      {"offset":0.9702,"color":"#ffffff"},{"offset":0.9747,"color":"#f07aa0"},{"offset":0.9792,"color":"#ffffff"},
      {"offset":1,"color":"#ffffff"}]}},
     "encoding": {
      "x": {"field": "x", "type": "quantitative", "scale": {"domain": [-0.005, 1.01], "nice": false, "zero": false}, "axis": {"values": [0, 0.2, 0.4, 0.6, 0.8, 1], "tickCount": 20, "format": ".1f", "labelFontSize": 17, "labelPadding": 9.6, "labelOverlap": false, "tickSize": -4, "grid": true, "gridColor": "#7b7bd6", "zindex": 1, "labelFlush": false, "title": null}},
      "y": {"field": "t", "type": "quantitative", "scale": {"domain": [121, 316], "nice": false, "zero": false}, "axis": {"values": [150, 200, 250, 300], "tickCount": 20, "labelFontSize": 17, "labelPadding": 10, "labelOverlap": false, "tickSize": -4, "grid": true, "gridColor": "#7b7bd6", "zindex": 1, "title": "Temperature/K", "titleFontSize": 17, "titleX": -41, "titleY": 95}},
      "y2": {"datum": 121}}},
    {"data": {"name": "d"}, "mark": {"type": "area", "interpolate": "monotone", "fill": {"gradient": "linear", "x1": 1, "y1": 0, "x2": 0, "y2": 1, "stops": [
      {"offset":0,"color":"rgba(255,255,255,0)"},{"offset":0.0045,"color":"#f07aa0"},{"offset":0.009,"color":"rgba(255,255,255,0)"},
      {"offset":0.0294,"color":"rgba(255,255,255,0)"},{"offset":0.0339,"color":"#f07aa0"},{"offset":0.0384,"color":"rgba(255,255,255,0)"},
      {"offset":0.0588,"color":"rgba(255,255,255,0)"},{"offset":0.0633,"color":"#f07aa0"},{"offset":0.0678,"color":"rgba(255,255,255,0)"},
      {"offset":0.0882,"color":"rgba(255,255,255,0)"},{"offset":0.0927,"color":"#f07aa0"},{"offset":0.0972,"color":"rgba(255,255,255,0)"},
      {"offset":0.1176,"color":"rgba(255,255,255,0)"},{"offset":0.1221,"color":"#f07aa0"},{"offset":0.1266,"color":"rgba(255,255,255,0)"},
      {"offset":0.147,"color":"rgba(255,255,255,0)"},{"offset":0.1515,"color":"#f07aa0"},{"offset":0.156,"color":"rgba(255,255,255,0)"},
      {"offset":0.1764,"color":"rgba(255,255,255,0)"},{"offset":0.1809,"color":"#f07aa0"},{"offset":0.1854,"color":"rgba(255,255,255,0)"},
      {"offset":0.2058,"color":"rgba(255,255,255,0)"},{"offset":0.2103,"color":"#f07aa0"},{"offset":0.2148,"color":"rgba(255,255,255,0)"},
      {"offset":0.2352,"color":"rgba(255,255,255,0)"},{"offset":0.2397,"color":"#f07aa0"},{"offset":0.2442,"color":"rgba(255,255,255,0)"},
      {"offset":0.2646,"color":"rgba(255,255,255,0)"},{"offset":0.2691,"color":"#f07aa0"},{"offset":0.2736,"color":"rgba(255,255,255,0)"},
      {"offset":0.294,"color":"rgba(255,255,255,0)"},{"offset":0.2985,"color":"#f07aa0"},{"offset":0.303,"color":"rgba(255,255,255,0)"},
      {"offset":0.3234,"color":"rgba(255,255,255,0)"},{"offset":0.3279,"color":"#f07aa0"},{"offset":0.3324,"color":"rgba(255,255,255,0)"},
      {"offset":0.3528,"color":"rgba(255,255,255,0)"},{"offset":0.3573,"color":"#f07aa0"},{"offset":0.3618,"color":"rgba(255,255,255,0)"},
      {"offset":0.3822,"color":"rgba(255,255,255,0)"},{"offset":0.3867,"color":"#f07aa0"},{"offset":0.3912,"color":"rgba(255,255,255,0)"},
      {"offset":0.4116,"color":"rgba(255,255,255,0)"},{"offset":0.4161,"color":"#f07aa0"},{"offset":0.4206,"color":"rgba(255,255,255,0)"},
      {"offset":0.441,"color":"rgba(255,255,255,0)"},{"offset":0.4455,"color":"#f07aa0"},{"offset":0.45,"color":"rgba(255,255,255,0)"},
      {"offset":0.4704,"color":"rgba(255,255,255,0)"},{"offset":0.4749,"color":"#f07aa0"},{"offset":0.4794,"color":"rgba(255,255,255,0)"},
      {"offset":0.4998,"color":"rgba(255,255,255,0)"},{"offset":0.5043,"color":"#f07aa0"},{"offset":0.5088,"color":"rgba(255,255,255,0)"},
      {"offset":0.5292,"color":"rgba(255,255,255,0)"},{"offset":0.5337,"color":"#f07aa0"},{"offset":0.5382,"color":"rgba(255,255,255,0)"},
      {"offset":0.5586,"color":"rgba(255,255,255,0)"},{"offset":0.5631,"color":"#f07aa0"},{"offset":0.5676,"color":"rgba(255,255,255,0)"},
      {"offset":0.588,"color":"rgba(255,255,255,0)"},{"offset":0.5925,"color":"#f07aa0"},{"offset":0.597,"color":"rgba(255,255,255,0)"},
      {"offset":0.6174,"color":"rgba(255,255,255,0)"},{"offset":0.6219,"color":"#f07aa0"},{"offset":0.6264,"color":"rgba(255,255,255,0)"},
      {"offset":0.6468,"color":"rgba(255,255,255,0)"},{"offset":0.6513,"color":"#f07aa0"},{"offset":0.6558,"color":"rgba(255,255,255,0)"},
      {"offset":0.6762,"color":"rgba(255,255,255,0)"},{"offset":0.6807,"color":"#f07aa0"},{"offset":0.6852,"color":"rgba(255,255,255,0)"},
      {"offset":0.7056,"color":"rgba(255,255,255,0)"},{"offset":0.7101,"color":"#f07aa0"},{"offset":0.7146,"color":"rgba(255,255,255,0)"},
      {"offset":0.735,"color":"rgba(255,255,255,0)"},{"offset":0.7395,"color":"#f07aa0"},{"offset":0.744,"color":"rgba(255,255,255,0)"},
      {"offset":0.7644,"color":"rgba(255,255,255,0)"},{"offset":0.7689,"color":"#f07aa0"},{"offset":0.7734,"color":"rgba(255,255,255,0)"},
      {"offset":0.7938,"color":"rgba(255,255,255,0)"},{"offset":0.7983,"color":"#f07aa0"},{"offset":0.8028,"color":"rgba(255,255,255,0)"},
      {"offset":0.8232,"color":"rgba(255,255,255,0)"},{"offset":0.8277,"color":"#f07aa0"},{"offset":0.8322,"color":"rgba(255,255,255,0)"},
      {"offset":0.8526,"color":"rgba(255,255,255,0)"},{"offset":0.8571,"color":"#f07aa0"},{"offset":0.8616,"color":"rgba(255,255,255,0)"},
      {"offset":0.882,"color":"rgba(255,255,255,0)"},{"offset":0.8865,"color":"#f07aa0"},{"offset":0.891,"color":"rgba(255,255,255,0)"},
      {"offset":0.9114,"color":"rgba(255,255,255,0)"},{"offset":0.9159,"color":"#f07aa0"},{"offset":0.9204,"color":"rgba(255,255,255,0)"},
      {"offset":0.9408,"color":"rgba(255,255,255,0)"},{"offset":0.9453,"color":"#f07aa0"},{"offset":0.9498,"color":"rgba(255,255,255,0)"},
      {"offset":0.9702,"color":"rgba(255,255,255,0)"},{"offset":0.9747,"color":"#f07aa0"},{"offset":0.9792,"color":"rgba(255,255,255,0)"},
      {"offset":1,"color":"rgba(255,255,255,0)"}]}},
     "encoding": {"x": {"field": "x", "type": "quantitative"}, "y": {"field": "t", "type": "quantitative"}, "y2": {"datum": 121}}},
    {"data": {"name": "d"}, "mark": {"type": "line", "interpolate": "monotone", "color": "#ee3b3b", "strokeWidth": 1.3}, "encoding": {"x": {"field": "x", "type": "quantitative"}, "y": {"field": "t", "type": "quantitative"}}},
    {"data": {"values": [{}]}, "mark": {"type": "text", "text": "MoSe₂₍₁₋ₓ₎Te₂ₓ", "align": "left", "baseline": "alphabetic", "fontSize": 15, "color": "#1e1e1e"}, "encoding": {"x": {"datum": 0.051, "type": "quantitative"}, "y": {"datum": 291.5, "type": "quantitative"}}}
   ]}
 ], "spacing": 93, "bounds": "flush", "resolve": {"scale": {"fill": "independent", "stroke": "independent", "shape": "independent", "strokeDash": "independent"}, "legend": {"fill": "independent", "stroke": "independent", "shape": "independent", "strokeDash": "independent"}}}
]
}
